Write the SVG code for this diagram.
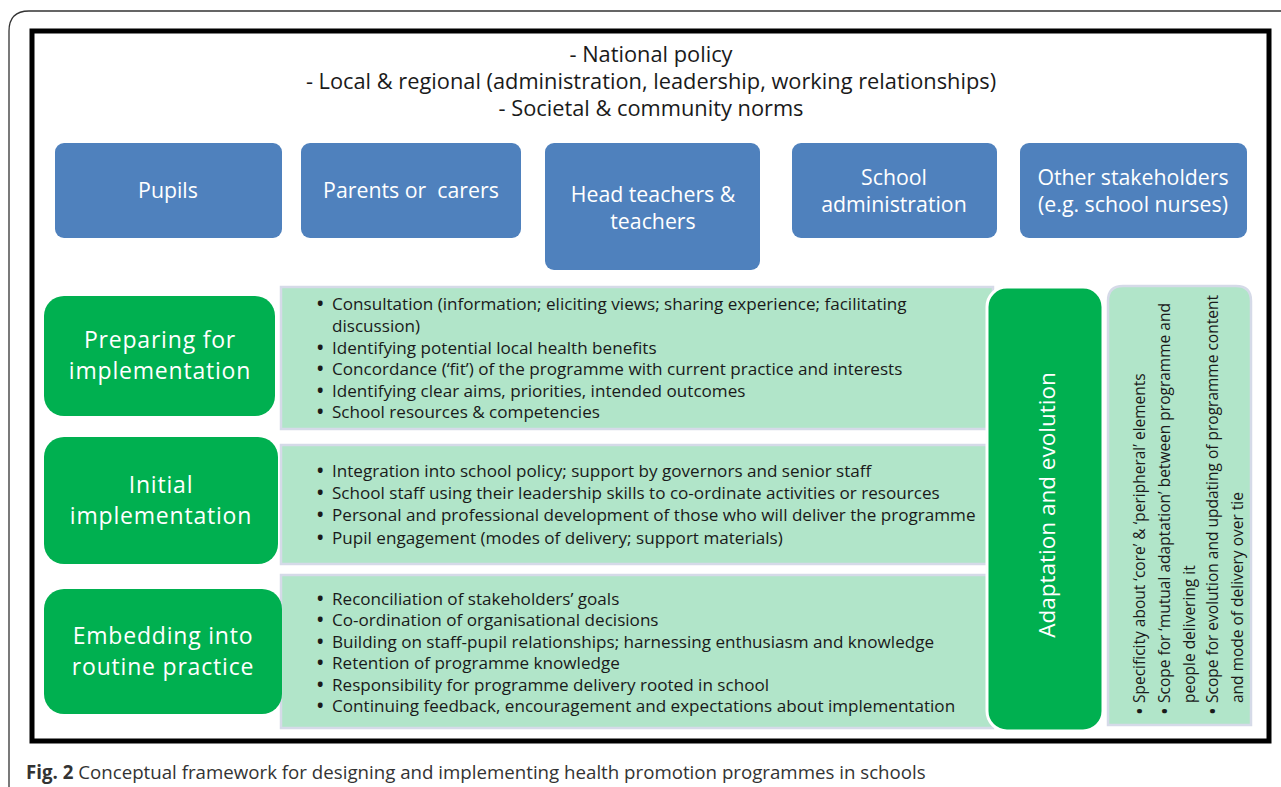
<svg xmlns="http://www.w3.org/2000/svg" width="1281" height="787" viewBox="0 0 1281 787">
<style>
  text { font-family: "Open Sans", "Noto Sans", "Liberation Sans", sans-serif; }
  .hdr { font-size: 21.8px; fill: #1a1a1a; text-anchor: middle; }
  .blue { fill: #4F81BD; }
  .bt { font-size: 21.3px; fill: #ffffff; text-anchor: middle; }
  .green { fill: #00B050; }
  .gt { font-size: 23px; letter-spacing: 0.8px; fill: #ffffff; text-anchor: middle; }
  .at { font-size: 22.5px; fill: #ffffff; text-anchor: middle; }
  .panel { fill: #B1E5C9; stroke: #D5DAE8; stroke-width: 2.5; }
  .pt { font-size: 17.1px; fill: #1a1a1a; }
  .bu { font-size: 17.1px; fill: #1a1a1a; font-weight: bold; }
  .rt { font-size: 15.5px; fill: #1a1a1a; }
  .rb { font-size: 15.5px; fill: #1a1a1a; font-weight: bold; }
  .cap { font-size: 18.7px; fill: #333333; }
</style>
<rect x="0" y="0" width="1281" height="787" fill="#ffffff"/>
<path d="M9,787 L9,31 Q9,11 29,11 L1281,11" fill="none" stroke="#333333" stroke-width="1.3"/>
<rect x="32" y="31" width="1237" height="710" fill="#ffffff" stroke="#000000" stroke-width="5"/>

<g id="context">
  <text class="hdr" x="651" y="62">- National policy</text>
  <text class="hdr" x="651" y="89">- Local &amp; regional (administration, leadership, working relationships)</text>
  <text class="hdr" x="651" y="116">- Societal &amp; community norms</text>
</g>

<g id="pupils">
  <rect class="blue" x="55" y="143" width="227" height="95" rx="9"/>
  <text class="bt" x="168" y="198">Pupils</text>
</g>
<g id="parents">
  <rect class="blue" x="301" y="143" width="220" height="95" rx="9"/>
  <text class="bt" x="411" y="198">Parents or&#160; carers</text>
</g>
<g id="teachers">
  <rect class="blue" x="545" y="143" width="215" height="127" rx="9"/>
  <text class="bt" x="653" y="201.5">Head teachers &amp;</text>
  <text class="bt" x="653" y="228.5">teachers</text>
</g>
<g id="admin">
  <rect class="blue" x="792" y="143" width="205" height="95" rx="9"/>
  <text class="bt" x="894" y="185">School</text>
  <text class="bt" x="894" y="212">administration</text>
</g>
<g id="others">
  <rect class="blue" x="1020" y="143" width="227" height="95" rx="9"/>
  <text class="bt" x="1133" y="185">Other stakeholders</text>
  <text class="bt" x="1133" y="212">(e.g. school nurses)</text>
</g>

<g id="panel-preparing">
  <rect class="panel" x="281" y="287" width="712" height="142"/>
  <text class="bu" x="317" y="310">•</text>
  <text class="pt" x="332" y="310">Consultation (information; eliciting views; sharing experience; facilitating</text>
  <text class="pt" x="332" y="332">discussion)</text>
  <text class="bu" x="317" y="354">•</text>
  <text class="pt" x="332" y="354">Identifying potential local health benefits</text>
  <text class="bu" x="317" y="375">•</text>
  <text class="pt" x="332" y="375">Concordance (‘fit’) of the programme with current practice and interests</text>
  <text class="bu" x="317" y="397">•</text>
  <text class="pt" x="332" y="397">Identifying clear aims, priorities, intended outcomes</text>
  <text class="bu" x="317" y="418">•</text>
  <text class="pt" x="332" y="418">School resources &amp; competencies</text>
</g>
<g id="panel-initial">
  <rect class="panel" x="281" y="445" width="712" height="119"/>
  <text class="bu" x="317" y="477">•</text>
  <text class="pt" x="332" y="477">Integration into school policy; support by governors and senior staff</text>
  <text class="bu" x="317" y="498.5">•</text>
  <text class="pt" x="332" y="498.5">School staff using their leadership skills to co-ordinate activities or resources</text>
  <text class="bu" x="317" y="521">•</text>
  <text class="pt" x="332" y="521">Personal and professional development of those who will deliver the programme</text>
  <text class="bu" x="317" y="544">•</text>
  <text class="pt" x="332" y="544">Pupil engagement (modes of delivery; support materials)</text>
</g>
<g id="panel-embedding">
  <rect class="panel" x="281" y="575" width="712" height="153"/>
  <text class="bu" x="317" y="605">•</text>
  <text class="pt" x="332" y="605">Reconciliation of stakeholders’ goals</text>
  <text class="bu" x="317" y="626">•</text>
  <text class="pt" x="332" y="626">Co-ordination of organisational decisions</text>
  <text class="bu" x="317" y="648">•</text>
  <text class="pt" x="332" y="648">Building on staff-pupil relationships; harnessing enthusiasm and knowledge</text>
  <text class="bu" x="317" y="669">•</text>
  <text class="pt" x="332" y="669">Retention of programme knowledge</text>
  <text class="bu" x="317" y="691">•</text>
  <text class="pt" x="332" y="691">Responsibility for programme delivery rooted in school</text>
  <text class="bu" x="317" y="712">•</text>
  <text class="pt" x="332" y="712">Continuing feedback, encouragement and expectations about implementation</text>
</g>

<g id="preparing">
  <rect class="green" x="44" y="296" width="231" height="120" rx="20"/>
  <text class="gt"><tspan x="160" y="347.5">Preparing for</tspan><tspan x="160" y="379">implementation</tspan></text>
</g>
<g id="initial">
  <rect class="green" x="44" y="437" width="234" height="127" rx="20"/>
  <text class="gt"><tspan x="161" y="492.5">Initial</tspan><tspan x="161" y="524">implementation</tspan></text>
</g>
<g id="embedding">
  <rect class="green" x="44" y="589" width="238" height="125" rx="20"/>
  <text class="gt"><tspan x="163" y="643.5">Embedding into</tspan><tspan x="163" y="675">routine practice</tspan></text>
</g>

<g id="adaptation">
  <rect class="green" x="987" y="287" width="116" height="444" rx="20" stroke="#ffffff" stroke-width="3"/>
  <text class="at" transform="translate(1055,505) rotate(-90)" x="0" y="0">Adaptation and evolution</text>
</g>

<g id="adaptation-details">
  <path d="M1108,725 L1108,301 Q1108,286 1123,286 L1236,286 Q1251,286 1251,301 L1251,725 Z" fill="#B1E5C9" stroke="#D5DAE8" stroke-width="2.5"/>
  <g transform="translate(1145,714) rotate(-90)">
    <text class="rb" x="0" y="0">•</text>
    <text class="rt" x="11" y="0">Specificity about ‘core’ &amp; ‘peripheral’ elements</text>
  </g>
  <g transform="translate(1170,714) rotate(-90)">
    <text class="rb" x="0" y="0">•</text>
    <text class="rt" x="11" y="0">Scope for ‘mutual adaptation’ between programme and</text>
  </g>
  <g transform="translate(1195,714) rotate(-90)">
    <text class="rt" x="11" y="0">people delivering it</text>
  </g>
  <g transform="translate(1218,714) rotate(-90)">
    <text class="rb" x="0" y="0">•</text>
    <text class="rt" x="11" y="0">Scope for evolution and updating of programme content</text>
  </g>
  <g transform="translate(1243,714) rotate(-90)">
    <text class="rt" x="11" y="0">and mode of delivery over tie</text>
  </g>
</g>

<g id="connectors"></g>

<text class="cap" x="26" y="779"><tspan font-weight="bold">Fig. 2</tspan> Conceptual framework for designing and implementing health promotion programmes in schools</text>
</svg>
